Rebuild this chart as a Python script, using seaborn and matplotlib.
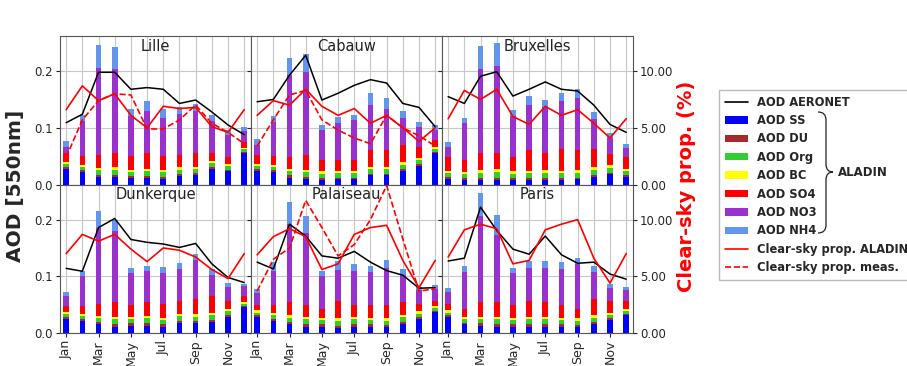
import numpy as np
import pandas as pd
import matplotlib
matplotlib.use("Agg")
import matplotlib.pyplot as plt
from matplotlib.path import Path
from matplotlib.patches import PathPatch, Patch
from matplotlib.lines import Line2D
import seaborn as sns

STATIONS = ["Lille", "Cabauw", "Bruxelles", "Dunkerque", "Palaiseau", "Paris"]
MONTHS = ["Jan", "Feb", "Mar", "Apr", "May", "Jun",
          "Jul", "Aug", "Sep", "Oct", "Nov", "Dec"]
COMPONENTS = ["SS", "DU", "Org", "BC", "SO4", "NO3", "NH4"]

# ALADIN AOD components, one row per station (order of STATIONS), Jan..Dec
aod_ss = [
    [0.027, 0.022, 0.013, 0.013, 0.012, 0.011, 0.010, 0.015, 0.017, 0.027, 0.023, 0.055],
    [0.024, 0.022, 0.012, 0.009, 0.008, 0.009, 0.009, 0.016, 0.016, 0.024, 0.033, 0.056],
    [0.010, 0.008, 0.008, 0.008, 0.008, 0.008, 0.008, 0.008, 0.009, 0.014, 0.018, 0.014],
    [0.025, 0.022, 0.015, 0.011, 0.013, 0.013, 0.011, 0.018, 0.018, 0.019, 0.029, 0.046],
    [0.028, 0.022, 0.015, 0.011, 0.011, 0.008, 0.011, 0.011, 0.011, 0.016, 0.025, 0.037],
    [0.028, 0.015, 0.013, 0.011, 0.011, 0.011, 0.011, 0.011, 0.011, 0.015, 0.023, 0.031],
]
aod_du = [
    [0.003, 0.003, 0.004, 0.004, 0.003, 0.004, 0.004, 0.003, 0.003, 0.003, 0.003, 0.002],
    [0.003, 0.003, 0.004, 0.004, 0.003, 0.003, 0.003, 0.003, 0.003, 0.003, 0.003, 0.002],
    [0.003, 0.003, 0.004, 0.004, 0.003, 0.003, 0.004, 0.003, 0.003, 0.003, 0.003, 0.003],
    [0.003, 0.003, 0.004, 0.005, 0.004, 0.004, 0.004, 0.004, 0.003, 0.004, 0.003, 0.002],
    [0.003, 0.003, 0.004, 0.005, 0.004, 0.004, 0.004, 0.004, 0.003, 0.004, 0.003, 0.002],
    [0.003, 0.003, 0.004, 0.005, 0.004, 0.004, 0.004, 0.004, 0.003, 0.004, 0.003, 0.003],
]
aod_org = [
    [0.006, 0.005, 0.008, 0.009, 0.007, 0.009, 0.008, 0.008, 0.007, 0.008, 0.006, 0.005],
    [0.006, 0.006, 0.008, 0.009, 0.008, 0.008, 0.008, 0.008, 0.008, 0.008, 0.007, 0.005],
    [0.007, 0.007, 0.009, 0.010, 0.008, 0.009, 0.009, 0.009, 0.009, 0.009, 0.008, 0.007],
    [0.005, 0.005, 0.007, 0.008, 0.008, 0.009, 0.008, 0.008, 0.008, 0.009, 0.006, 0.004],
    [0.005, 0.006, 0.008, 0.009, 0.008, 0.010, 0.009, 0.008, 0.008, 0.008, 0.006, 0.005],
    [0.005, 0.006, 0.008, 0.009, 0.008, 0.010, 0.009, 0.008, 0.008, 0.008, 0.006, 0.005],
]
aod_bc = [
    [0.004, 0.004, 0.004, 0.004, 0.004, 0.004, 0.004, 0.004, 0.004, 0.004, 0.004, 0.003],
    [0.004, 0.004, 0.004, 0.004, 0.004, 0.004, 0.004, 0.004, 0.004, 0.004, 0.004, 0.003],
    [0.004, 0.004, 0.005, 0.005, 0.004, 0.004, 0.004, 0.004, 0.004, 0.005, 0.005, 0.004],
    [0.004, 0.004, 0.004, 0.004, 0.004, 0.004, 0.004, 0.004, 0.004, 0.004, 0.004, 0.003],
    [0.004, 0.004, 0.004, 0.004, 0.004, 0.004, 0.004, 0.004, 0.004, 0.004, 0.004, 0.004],
    [0.004, 0.004, 0.004, 0.004, 0.004, 0.004, 0.004, 0.004, 0.004, 0.004, 0.004, 0.004],
]
aod_so4 = [
    [0.015, 0.016, 0.023, 0.025, 0.024, 0.027, 0.024, 0.022, 0.024, 0.013, 0.012, 0.010],
    [0.015, 0.015, 0.020, 0.026, 0.020, 0.019, 0.020, 0.029, 0.029, 0.031, 0.019, 0.012],
    [0.025, 0.021, 0.029, 0.029, 0.026, 0.037, 0.031, 0.038, 0.036, 0.031, 0.020, 0.021],
    [0.010, 0.013, 0.021, 0.026, 0.021, 0.024, 0.024, 0.023, 0.027, 0.030, 0.015, 0.011],
    [0.009, 0.014, 0.023, 0.020, 0.016, 0.031, 0.021, 0.022, 0.023, 0.022, 0.013, 0.009],
    [0.011, 0.015, 0.025, 0.025, 0.022, 0.028, 0.026, 0.023, 0.017, 0.029, 0.020, 0.013],
]
aod_no3 = [
    [0.012, 0.062, 0.154, 0.148, 0.070, 0.075, 0.068, 0.073, 0.075, 0.057, 0.040, 0.020],
    [0.017, 0.061, 0.146, 0.147, 0.054, 0.066, 0.070, 0.081, 0.074, 0.048, 0.035, 0.019],
    [0.018, 0.065, 0.149, 0.153, 0.072, 0.080, 0.081, 0.085, 0.092, 0.054, 0.028, 0.016],
    [0.018, 0.053, 0.134, 0.126, 0.055, 0.055, 0.055, 0.056, 0.069, 0.037, 0.024, 0.017],
    [0.021, 0.061, 0.138, 0.127, 0.057, 0.055, 0.061, 0.058, 0.065, 0.049, 0.024, 0.021],
    [0.021, 0.064, 0.153, 0.119, 0.056, 0.058, 0.061, 0.063, 0.078, 0.047, 0.023, 0.020],
]
aod_nh4 = [
    [0.010, 0.010, 0.040, 0.040, 0.014, 0.018, 0.016, 0.012, 0.012, 0.010, 0.008, 0.006],
    [0.012, 0.010, 0.030, 0.032, 0.008, 0.010, 0.008, 0.020, 0.018, 0.012, 0.010, 0.008],
    [0.008, 0.010, 0.040, 0.040, 0.010, 0.015, 0.012, 0.015, 0.015, 0.012, 0.008, 0.006],
    [0.008, 0.010, 0.030, 0.020, 0.010, 0.010, 0.010, 0.010, 0.010, 0.010, 0.008, 0.004],
    [0.008, 0.015, 0.040, 0.030, 0.010, 0.015, 0.012, 0.012, 0.015, 0.010, 0.006, 0.006],
    [0.008, 0.012, 0.040, 0.035, 0.010, 0.012, 0.012, 0.012, 0.012, 0.012, 0.008, 0.006],
]

# AERONET AOD (left axis)
aod_aeronet = [
    [0.109, 0.124, 0.198, 0.198, 0.168, 0.171, 0.168, 0.143, 0.149, 0.128, 0.105, 0.088],
    [0.146, 0.150, 0.193, 0.228, 0.149, 0.161, 0.175, 0.185, 0.179, 0.143, 0.136, 0.102],
    [0.155, 0.143, 0.191, 0.199, 0.156, 0.168, 0.181, 0.168, 0.165, 0.140, 0.106, 0.092],
    [0.114, 0.109, 0.186, 0.202, 0.165, 0.160, 0.157, 0.151, 0.158, 0.122, 0.098, 0.089],
    [0.125, 0.113, 0.192, 0.171, 0.136, 0.132, 0.144, 0.125, 0.110, 0.102, 0.079, 0.080],
    [0.127, 0.132, 0.222, 0.181, 0.148, 0.139, 0.171, 0.138, 0.123, 0.125, 0.104, 0.095],
]

# clear-sky proportion (%) (right axis)
clear_aladin = [
    [6.6, 8.7, 7.4, 8.0, 6.1, 5.0, 6.9, 6.7, 6.8, 5.1, 4.6, 6.6],
    [6.1, 7.4, 7.0, 8.4, 6.9, 6.1, 6.7, 5.4, 6.1, 5.0, 3.8, 5.0],
    [5.8, 8.3, 7.5, 8.4, 6.0, 5.3, 6.9, 6.1, 6.6, 5.4, 4.1, 5.8],
    [7.0, 8.7, 8.1, 8.7, 7.4, 6.3, 7.5, 7.3, 6.7, 5.6, 4.8, 7.0],
    [6.9, 8.5, 9.2, 8.5, 5.6, 6.1, 8.7, 9.3, 9.5, 6.4, 4.0, 6.4],
    [6.7, 9.1, 9.6, 9.2, 6.1, 6.4, 9.1, 9.6, 10.0, 6.6, 4.4, 7.0],
]
# measured clear-sky proportion, only for some stations
clear_meas = {
    "Lille": [2.4, 5.7, 7.4, 8.0, 7.9, 4.9, 4.9, 5.7, 7.0, 5.4, 4.6, 3.6],
    "Cabauw": [3.4, 5.7, 7.9, 8.3, 5.7, 4.8, 4.1, 3.6, 6.1, 5.0, 4.3, 3.4],
    "Palaiseau": [3.7, 6.5, 7.5, 11.7, 9.3, 6.8, 7.8, 10.0, 13.0, 8.3, 3.7, 3.9],
}

COLORS = {"SS": "#0000ff", "DU": "#a52a2a", "Org": "#32cd32", "BC": "#ffff00",
          "SO4": "#ff0000", "NO3": "#9932cc", "NH4": "#6495ed"}

comp_data = [aod_ss, aod_du, aod_org, aod_bc, aod_so4, aod_no3, aod_nh4]
rows = []
for si, st in enumerate(STATIONS):
    for m in range(12):
        cum = 0.0
        for comp, arr in zip(COMPONENTS, comp_data):
            cum += arr[si][m]
            rows.append(dict(station=st, month=m, comp=comp, top=cum))
df = pd.DataFrame(rows)

sns.set_style("whitegrid", {"axes.edgecolor": "#555555", "grid.color": "#c8c8c8"})
plt.rcParams["font.family"] = ["DejaVu Sans"]

fig, axes = plt.subplots(2, 3, figsize=(9.07, 3.66), dpi=100, sharex=True, sharey=True)
fig.subplots_adjust(left=60/907, right=633/907, top=1-36/366, bottom=1-333/366,
                    wspace=0, hspace=0)

YMAX = 0.262
for si, st in enumerate(STATIONS):
    ax = axes.flat[si]
    sub = df[df.station == st]
    # stacked bars: draw cumulative tops from the highest down
    for comp in reversed(COMPONENTS):
        sns.barplot(data=sub[sub.comp == comp], x="month", y="top",
                    color=COLORS[comp], saturation=1, width=0.35,
                    errorbar=None, ax=ax, linewidth=0)
    sns.lineplot(x=np.arange(12), y=aod_aeronet[si], color="black", lw=1.1,
                 ax=ax, legend=False)
    ax.set_xlabel("")
    ax.set_ylabel("")
    ax.set_xlim(-0.38, 11.42)
    ax.set_ylim(0, YMAX)
    ax.set_xticks(range(0, 12, 2))
    ax.set_xticks(range(1, 12, 2), minor=True)
    ax.set_xticklabels(MONTHS[::2], rotation=90, fontsize=9)
    ax.grid(True, which="both", axis="x", lw=0.8)
    ax.grid(True, which="major", axis="y", lw=0.8)
    ax.set_axisbelow(True)
    ax.set_yticks([0, 0.1, 0.2])
    ax.set_yticklabels(["0.0", "0.1", "0.2"], fontsize=8.5)
    ax.tick_params(axis="x", which="major", bottom=True, length=3, pad=2)
    ax.tick_params(axis="x", which="minor", length=0)
    ax.tick_params(axis="y", left=(si % 3 == 0), length=3, pad=2)
    ax.text(0.5, 0.93, st, transform=ax.transAxes, ha="center", va="center",
            fontsize=10.5, color="#222222")

    ax2 = ax.twinx()
    sns.lineplot(x=np.arange(12), y=clear_aladin[si], color="red", lw=1.2,
                 ax=ax2, legend=False)
    if st in clear_meas:
        sns.lineplot(x=np.arange(12), y=clear_meas[st], color="red", lw=1.2,
                     ls="--", ax=ax2, legend=False)
    ax2.set_ylim(0, YMAX * 50)
    ax2.set_xlim(-0.38, 11.42)
    ax2.grid(False)
    ax2.set_ylabel("")
    if si % 3 == 2:
        ax2.set_yticks([0, 5, 10])
        ax2.set_yticklabels(["0.00", "5.00", "10.00"], fontsize=8.5)
        ax2.tick_params(axis="y", right=True, length=3, pad=2)
    else:
        ax2.set_yticks([])
    for sp in ax2.spines.values():
        sp.set_visible(False)

fig.text(16/907, 1-186/366, "AOD [550nm]", rotation=90, ha="center", va="center",
         fontsize=14.5, fontweight="bold")
fig.text(687/907, 1-186/366, "Clear-sky prop. (%)", rotation=90, ha="center",
         va="center", fontsize=14, fontweight="bold", color="red")

handles = [Line2D([], [], color="black", lw=1.2)]
labels = ["AOD AERONET"]
for comp in COMPONENTS:
    handles.append(Patch(facecolor=COLORS[comp], edgecolor="none"))
    labels.append("AOD " + comp)
handles += [Line2D([], [], color="red", lw=1.2),
            Line2D([], [], color="red", lw=1.2, ls="--")]
labels += ["Clear-sky prop. ALADIN", "Clear-sky prop. meas."]
fig.legend(handles, labels, loc="upper left", bbox_to_anchor=(713/907, 1-84/366),
           prop=dict(size=8.3, weight="bold"), handlelength=2.0, handleheight=0.6,
           handletextpad=0.8, labelspacing=0.47, borderpad=0.5,
           frameon=True, edgecolor="#bbbbbb", fancybox=False, framealpha=1)

# curly brace grouping the ALADIN components
px = [(818, 112), (826, 112), (826, 120), (826, 164), (826, 172), (833, 172),
      (826, 172), (826, 180), (826, 225), (826, 233), (818, 233)]
codes = [Path.MOVETO, Path.CURVE3, Path.CURVE3, Path.LINETO, Path.CURVE3, Path.CURVE3,
         Path.CURVE3, Path.CURVE3, Path.LINETO, Path.CURVE3, Path.CURVE3]
verts = [(x/907, 1 - y/366) for x, y in px]
fig.add_artist(PathPatch(Path(verts, codes), fill=False, lw=0.9, color="#222222",
                         transform=fig.transFigure, zorder=10))
fig.text(838/907, 1-172/366, "ALADIN", ha="left", va="center", fontsize=8.5,
         fontweight="bold", zorder=10)

fig.savefig("out.png", dpi=100)
